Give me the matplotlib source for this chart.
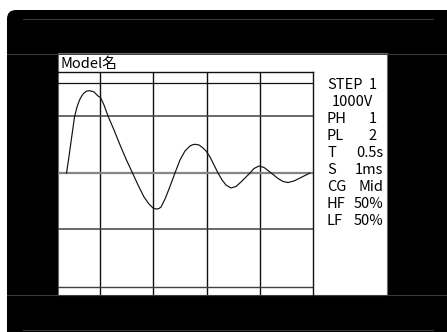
import matplotlib
matplotlib.use("Agg")
import matplotlib.pyplot as plt
from matplotlib.patches import FancyBboxPatch, Rectangle

plt.rcParams['font.family'] = ['Noto Sans CJK JP', 'DejaVu Sans']

t_div = [-0.629, -0.592, -0.545, -0.479, -0.432, -0.385, -0.338, -0.300, -0.254, -0.197,
         -0.150, -0.113, -0.038, 0.009,
         0.075, 0.150, 0.263, 0.376, 0.488, 0.610, 0.714, 0.826, 0.920, 0.995,
         1.033, 1.070, 1.108, 1.146, 1.221, 1.296, 1.408, 1.502, 1.596, 1.690, 1.737, 1.784, 1.859,
         1.934, 1.991, 2.066, 2.141, 2.216, 2.291, 2.366, 2.460, 2.554, 2.648,
         2.742, 2.817, 2.892, 2.986, 3.080, 3.155, 3.249, 3.343, 3.437, 3.531,
         3.643, 3.756, 3.850, 3.944]
v_div = [0.000, 0.229, 0.547, 0.988, 1.164, 1.287, 1.367, 1.411, 1.443, 1.451,
         1.441, 1.429, 1.358, 1.332,
         1.199, 1.005, 0.758, 0.494, 0.247, 0.000, -0.212, -0.423, -0.547, -0.617,
         -0.631, -0.635, -0.626, -0.600, -0.459, -0.282, 0.000, 0.229, 0.388, 0.476, 0.497, 0.506, 0.494,
         0.441, 0.388, 0.282, 0.141, 0.000, -0.123, -0.212, -0.265, -0.238, -0.159,
         -0.071, 0.000, 0.079, 0.123, 0.097, 0.044, -0.026, -0.097, -0.150, -0.168,
         -0.141, -0.088, -0.044, 0.000]

title_text = "Model名"
param_labels = ["STEP", "", "PH", "PL", "T", "S", "CG", "HF", "LF"]
param_values = ["1", "1000V", "1", "2", "0.5s", "1ms", "Mid", "50%", "50%"]

W, H = 447, 332
fig = plt.figure(figsize=(W / 100, H / 100), dpi=100)
fig.patch.set_facecolor('white')

# full-figure pixel axes for the device frame
bg = fig.add_axes([0, 0, 1, 1])
bg.set_xlim(0, W)
bg.set_ylim(H, 0)
bg.axis('off')

bg.add_patch(FancyBboxPatch((7, 10), 460, 340, boxstyle="round,pad=0,rounding_size=9",
                            facecolor='black', edgecolor='none'))
for (x0, x1, y) in [(23, 433, 19), (23, 433, 330), (7, 447, 53.5), (7, 447, 295)]:
    bg.plot([x0, x1], [y, y], color='#3c3c3c', lw=0.7)
bg.add_patch(Rectangle((58, 53), 329, 242, facecolor='white', edgecolor='#6a6a6a', lw=0.8))

fs = 10.5
bg.text(60, 68, title_text, fontsize=fs, color='black', va='baseline', ha='left')

row_base = 89
row_step = 17.0
for i, (lab, val) in enumerate(zip(param_labels, param_values)):
    yb = row_base + i * row_step
    if lab:
        bg.text(327, yb, lab, fontsize=fs, va='baseline', ha='left', color='black')
        xr = 376.5 if len(val) == 1 else 383.5
        bg.text(xr, yb, val, fontsize=fs, va='baseline', ha='right', color='black')
    else:
        bg.text(352, yb, val, fontsize=fs, va='baseline', ha='center', color='black')

# waveform grid axes
ax = fig.add_axes([58 / W, (H - 295) / H, (313 - 58) / W, (295 - 72) / H])
ax.set_facecolor('none')
ax.set_xlim(-0.789, 4.0)
ax.set_ylim(-2.152, 1.781)
ax.set_xticks([])
ax.set_yticks([])
for s in ['left', 'bottom']:
    ax.spines[s].set_visible(False)
for s in ['top', 'right']:
    ax.spines[s].set_color('#111111')
    ax.spines[s].set_linewidth(1.0)

for xv in [0, 1, 2, 3]:
    ax.axvline(xv, color='#111111', lw=1.0)
ax.axhline(1.587, color='#111111', lw=0.9)
ax.axhline(1.005, color='#404040', lw=1.1)
ax.axhline(0.0, color='#858585', lw=1.6)
ax.axhline(-0.988, color='#404040', lw=1.1)
ax.axhline(-2.011, color='#404040', lw=1.0)

ax.plot(t_div, v_div, color='#111111', lw=0.85, solid_joinstyle='round')

fig.savefig('out.png', dpi=100, facecolor='white')
